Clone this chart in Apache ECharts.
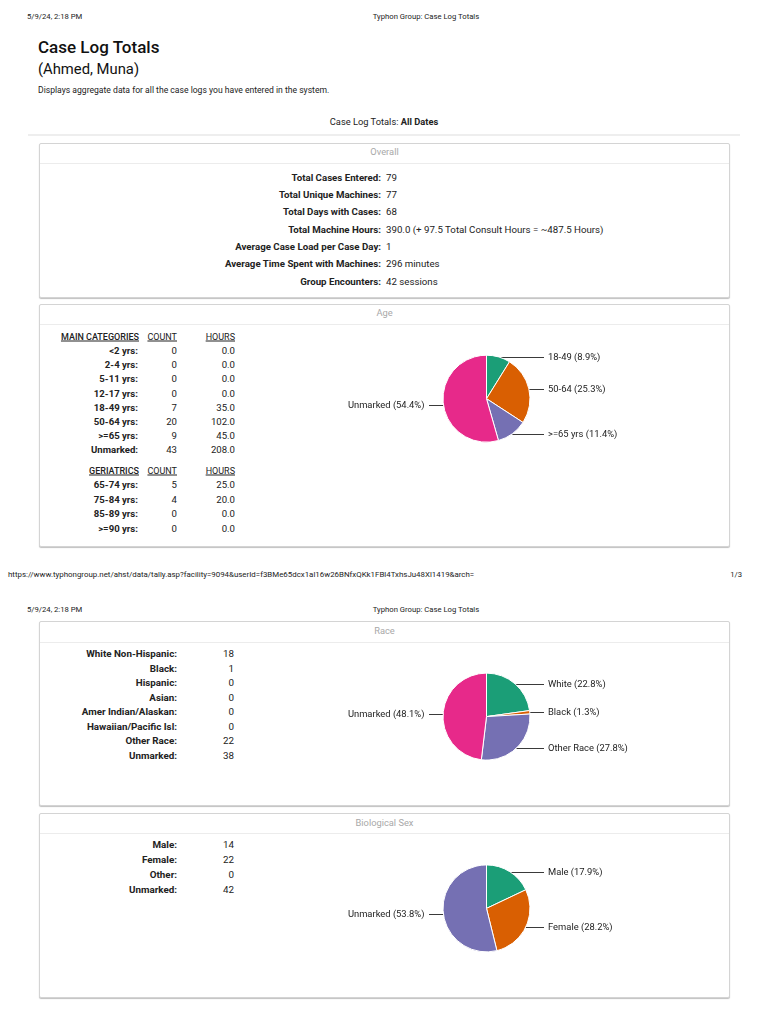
<!DOCTYPE html>
<html>
<head>
<meta charset="utf-8">
<script src="https://cdn.jsdelivr.net/npm/echarts@6/dist/echarts.min.js"></script>
<style>
  html, body { margin:0; padding:0; background:#fff; }
  body { width:768px; height:1024px; position:relative; overflow:hidden; font-family: Roboto, "Noto Sans", Arial, sans-serif; color:#222; }
  .t { position:absolute; white-space:nowrap; line-height:1; }
  .box { position:absolute; border:1px solid #d4d4d4; border-radius:2px; box-shadow:0 1px 1px rgba(0,0,0,0.25); background:#fff; }
  .sep { position:absolute; height:1px; background:#ececec; }
  #chart { position:absolute; left:0; top:0; width:768px; height:1024px; }
</style>
</head>
<body>
<div id="page"></div>
<div id="chart"></div>
<script>
// ---------- data ----------
const printDate = "5/9/24, 2:18 PM";
const printTitle = "Typhon Group: Case Log Totals";
const footerUrl = "https://www.typhongroup.net/ahst/data/tally.asp?facility=9094&userId=f3BMe65dcx1al16w26BNfxQKk1FBl4TxhsJu48Xl1419&arch=";
const footerPage = "1/3";

const overallLabels = ["Total Cases Entered:", "Total Unique Machines:", "Total Days with Cases:", "Total Machine Hours:", "Average Case Load per Case Day:", "Average Time Spent with Machines:", "Group Encounters:"];
const overallValues = ["79", "77", "68", "390.0 (+ 97.5 Total Consult Hours = ~487.5 Hours)", "1", "296 minutes", "42 sessions"];

const ageCategories = ["<2 yrs:", "2-4 yrs:", "5-11 yrs:", "12-17 yrs:", "18-49 yrs:", "50-64 yrs:", ">=65 yrs:", "Unmarked:"];
const ageCounts = [0, 0, 0, 0, 7, 20, 9, 43];
const ageHours = [0.0, 0.0, 0.0, 0.0, 35.0, 102.0, 45.0, 208.0];
const geriCategories = ["65-74 yrs:", "75-84 yrs:", "85-89 yrs:", ">=90 yrs:"];
const geriCounts = [5, 4, 0, 0];
const geriHours = [25.0, 20.0, 0.0, 0.0];

const raceCategories = ["White Non-Hispanic:", "Black:", "Hispanic:", "Asian:", "Amer Indian/Alaskan:", "Hawaiian/Pacific Isl:", "Other Race:", "Unmarked:"];
const raceCounts = [18, 1, 0, 0, 0, 0, 22, 38];

const sexCategories = ["Male:", "Female:", "Other:", "Unmarked:"];
const sexCounts = [14, 22, 0, 42];

const agePieNames = ["18-49", "50-64", ">=65 yrs", "Unmarked"];
const agePieValues = [7, 20, 9, 43];
const racePieNames = ["White", "Black", "Other Race", "Unmarked"];
const racePieValues = [18, 1, 22, 38];
const sexPieNames = ["Male", "Female", "Unmarked"];
const sexPieValues = [14, 22, 42];

const palette = ["#1b9e77", "#d95f02", "#7570b3", "#e7298a"];

// ---------- page text ----------
const page = document.getElementById('page');
function put(txt, x, y, o) {
  o = o || {};
  const d = document.createElement('div');
  d.className = 't';
  if (o.html) d.innerHTML = txt; else d.textContent = txt;
  d.style.fontSize = (o.size || 9.5) + 'px';
  if (o.weight) d.style.fontWeight = o.weight;
  if (o.color) d.style.color = o.color;
  if (o.underline) d.style.textDecoration = 'underline';
  let tx = '0';
  if (o.anchor === 'right') { d.style.right = (768 - x) + 'px'; }
  else if (o.anchor === 'center') { d.style.left = x + 'px'; tx = '-50%'; }
  else { d.style.left = x + 'px'; }
  d.style.top = y + 'px';
  d.style.transform = 'translate(' + tx + ',-50%)';
  page.appendChild(d);
  return d;
}
function box(x, y, w, h, title, titleY, sepY) {
  const b = document.createElement('div');
  b.className = 'box';
  b.style.left = x + 'px'; b.style.top = y + 'px';
  b.style.width = w + 'px'; b.style.height = h + 'px';
  page.appendChild(b);
  const s = document.createElement('div');
  s.className = 'sep';
  s.style.left = (x + 1) + 'px'; s.style.width = (w) + 'px'; s.style.top = sepY + 'px';
  page.appendChild(s);
  put(title, x + w / 2 + 1, titleY, { anchor: 'center', size: 9.3, color: '#a8a8a8' });
}

// header page 1
put(printDate, 27, 17, { size: 7.7 });
put(printTitle, 426, 17, { size: 7.7, anchor: 'center' });
put("Case Log Totals", 38, 47, { size: 17, weight: 500, color: '#111' });
put("(Ahmed, Muna)", 38, 69, { size: 14.8, color: '#111' });
put("Displays aggregate data for all the case logs you have entered in the system.", 38, 90, { size: 8.6 });
put("Case Log Totals: <b>All Dates</b>", 384, 122, { size: 9.3, anchor: 'center', html: true });
const hr = document.createElement('div');
hr.className = 'sep';
hr.style.left = '28px'; hr.style.width = '712px'; hr.style.top = '134px'; hr.style.height = '2px'; hr.style.background = '#eeeeee';
page.appendChild(hr);

// Overall
box(39, 143, 689, 153, "Overall", 152, 163);
overallLabels.forEach((l, i) => {
  const y = 177.7 + i * 17.3;
  put(l, 381, y, { anchor: 'right', weight: 'bold', size: 9.7 });
  put(overallValues[i], 386, y, { size: 9.7 });
});

// Age
box(39, 304, 689, 241, "Age", 313, 324);
put("MAIN CATEGORIES", 139, 337, { anchor: 'right', underline: true, weight: 500, size: 9 });
put("COUNT", 177, 337, { anchor: 'right', underline: true, size: 9 });
put("HOURS", 235, 337, { anchor: 'right', underline: true, size: 9 });
ageCategories.forEach((c, i) => {
  const y = 351 + i * 14.2;
  put(c, 138, y, { anchor: 'right', weight: 'bold', size: 9.6 });
  put(String(ageCounts[i]), 177, y, { anchor: 'right', size: 9.6 });
  put(ageHours[i].toFixed(1), 235, y, { anchor: 'right', size: 9.6 });
});
put("GERIATRICS", 139, 470.5, { anchor: 'right', underline: true, weight: 500, size: 9 });
put("COUNT", 177, 470.5, { anchor: 'right', underline: true, size: 9 });
put("HOURS", 235, 470.5, { anchor: 'right', underline: true, size: 9 });
geriCategories.forEach((c, i) => {
  const y = 485 + i * 14.6;
  put(c, 138, y, { anchor: 'right', weight: 'bold', size: 9.6 });
  put(String(geriCounts[i]), 177, y, { anchor: 'right', size: 9.6 });
  put(geriHours[i].toFixed(1), 235, y, { anchor: 'right', size: 9.6 });
});

// footer page 1
put(footerUrl, 8, 575, { size: 7.9 });
put(footerPage, 742, 575, { size: 7.7, anchor: 'right' });

// header page 2
put(printDate, 27, 610, { size: 7.7 });
put(printTitle, 426, 610, { size: 7.7, anchor: 'center' });

// Race
box(39, 621, 689, 183, "Race", 631, 642);
raceCategories.forEach((c, i) => {
  const y = 654 + i * 14.5;
  put(c, 177, y, { anchor: 'right', weight: 'bold', size: 9.8 });
  put(String(raceCounts[i]), 234, y, { anchor: 'right', size: 9.8 });
});

// Biological Sex
box(39, 813, 689, 183, "Biological Sex", 823, 833);
sexCategories.forEach((c, i) => {
  const y = 845 + i * 15;
  put(c, 177, y, { anchor: 'right', weight: 'bold', size: 9.8 });
  put(String(sexCounts[i]), 234, y, { anchor: 'right', size: 9.8 });
});

// ---------- pies ----------
const pieRadius = 43.5;
const pieCenters = [[486.5, 398.7], [486.5, 716.6], [486.5, 908.4]];

function pieSeries(names, values, center) {
  const total = values.reduce((a, b) => a + b, 0);
  return {
    type: 'pie',
    center: center,
    radius: pieRadius,
    startAngle: 90,
    clockwise: true,
    avoidLabelOverlap: false,
    animation: false,
    silent: true,
    itemStyle: { borderColor: '#ffffff', borderWidth: 1 },
    label: {
      show: true,
      position: 'outside',
      fontFamily: 'Roboto, Arial, sans-serif',
      fontSize: 9.4,
      color: '#222',
      formatter: p => p.name + ' (' + (p.value / total * 100).toFixed(1) + '%)'
    },
    labelLine: { show: true, length: 1, length2: 15, lineStyle: { color: '#3a3a3a', width: 1 } },
    labelLayout: function (params) {
      const c = center;
      const pts = params.labelLinePoints;
      if (!pts) return {};
      const p0 = pts[0];
      const isLeft = p0[0] < c[0];
      const lineEnd = isLeft ? c[0] - pieRadius - 14 : c[0] + pieRadius + 14;
      const textX = isLeft ? c[0] - pieRadius - 18.5 : c[0] + pieRadius + 18;
      const y = Math.round(p0[1]) + 0.5;
      return {
        x: textX,
        y: y,
        align: isLeft ? 'right' : 'left',
        verticalAlign: 'middle',
        labelLinePoints: [[p0[0], y], [p0[0], y], [lineEnd, y]]
      };
    },
    data: names.map((n, i) => ({ name: n, value: values[i], itemStyle: { color: palette[i] } }))
  };
}

const chart = echarts.init(document.getElementById('chart'), null, { renderer: 'canvas' });
chart.setOption({
  backgroundColor: 'transparent',
  animation: false,
  series: [
    pieSeries(agePieNames, agePieValues, pieCenters[0]),
    pieSeries(racePieNames, racePieValues, pieCenters[1]),
    pieSeries(sexPieNames, sexPieValues, pieCenters[2])
  ]
});
</script>
</body>
</html>
